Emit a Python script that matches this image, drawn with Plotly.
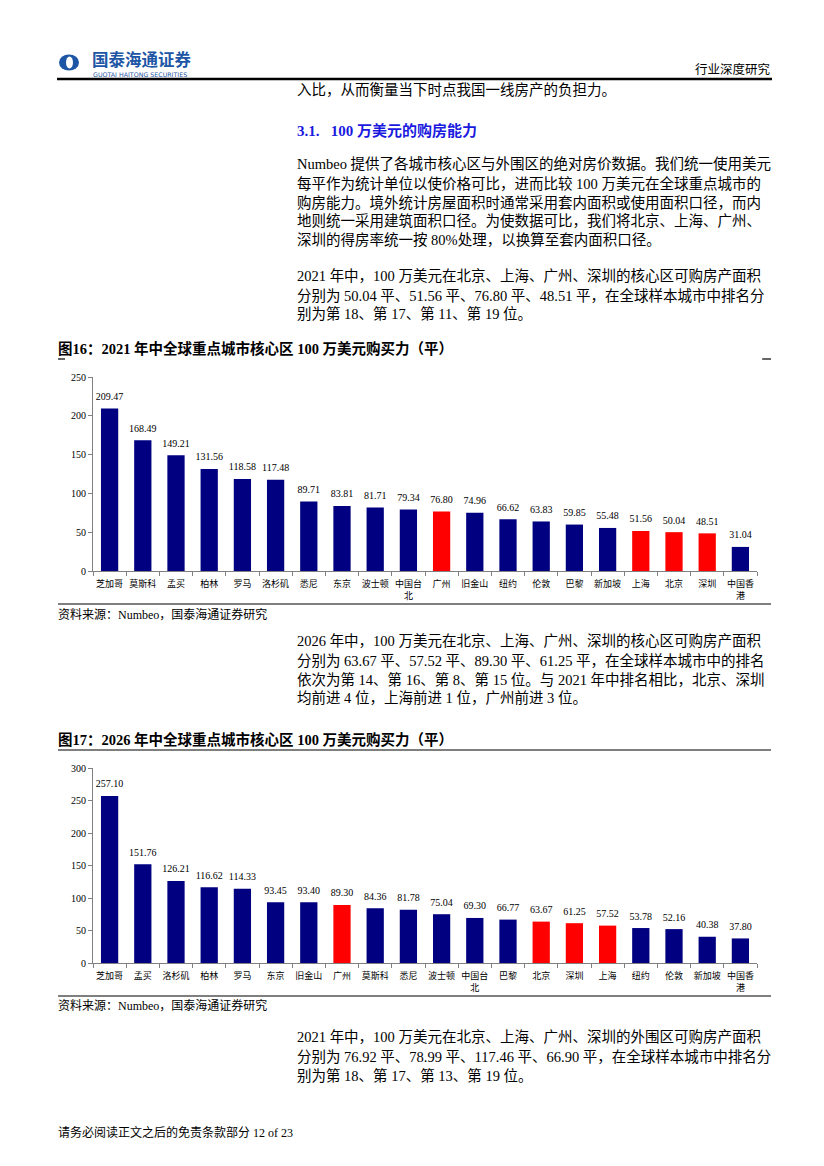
import plotly.graph_objects as go

W, H = 824, 1166

# ---------------- data ----------------
cities_2021 = ["芝加哥", "莫斯科", "孟买", "柏林", "罗马", "洛杉矶", "悉尼", "东京", "波士顿", "中国台北",
               "广州", "旧金山", "纽约", "伦敦", "巴黎", "新加坡", "上海", "北京", "深圳", "中国香港"]
values_2021 = [209.47, 168.49, 149.21, 131.56, 118.58, 117.48, 89.71, 83.81, 81.71, 79.34,
               76.80, 74.96, 66.62, 63.83, 59.85, 55.48, 51.56, 50.04, 48.51, 31.04]

cities_2026 = ["芝加哥", "孟买", "洛杉矶", "柏林", "罗马", "东京", "旧金山", "广州", "莫斯科", "悉尼",
               "波士顿", "中国台北", "巴黎", "北京", "深圳", "上海", "纽约", "伦敦", "新加坡", "中国香港"]
values_2026 = [257.10, 151.76, 126.21, 116.62, 114.33, 93.45, 93.40, 89.30, 84.36, 81.78,
               75.04, 69.30, 66.77, 63.67, 61.25, 57.52, 53.78, 52.16, 40.38, 37.80]

highlight_cities = ["广州", "上海", "北京", "深圳"]
yticks_2021 = [0, 50, 100, 150, 200, 250]
yticks_2026 = [0, 50, 100, 150, 200, 250, 300]

NAVY = "#000080"
RED = "#FF0000"
SERIF = "Liberation Serif, Noto Sans CJK SC"
CJK = "Noto Sans CJK SC"


def px(x):
    return x / W


def py(y):
    return 1 - y / H


def tick_label(c):
    if len(c) == 4:
        return c[:3] + "<br>" + c[3:]
    return c


fig = go.Figure()

for cities, values, xa, ya in [(cities_2021, values_2021, "x", "y"),
                               (cities_2026, values_2026, "x2", "y2")]:
    colors = [RED if c in highlight_cities else NAVY for c in cities]
    fig.add_trace(go.Bar(x=cities, y=values, marker=dict(color=colors, line=dict(width=0)),
                         xaxis=xa, yaxis=ya, showlegend=False, hoverinfo="skip"))
    fig.add_trace(go.Scatter(x=cities, y=values, mode="markers+text",
                             text=[f"{v:.2f}" for v in values], textposition="top center",
                             marker=dict(size=8, opacity=0),
                             textfont=dict(family=SERIF, size=10, color="#000000"),
                             xaxis=xa, yaxis=ya, showlegend=False, hoverinfo="skip", cliponaxis=False))

axis_common_x = dict(showline=True, linecolor="#808080", linewidth=1, ticks="outside",
                     tickson="boundaries", ticklen=4, tickcolor="#808080", showgrid=False,
                     tickangle=0, ticklabelstandoff=4, automargin=False,
                     range=[-0.5, 19.5],
                     tickfont=dict(family=CJK, size=9, color="#000000"), fixedrange=True)
axis_common_y = dict(showline=True, linecolor="#808080", linewidth=1, ticks="outside",
                     ticklen=4, tickcolor="#808080", showgrid=False, zeroline=False,
                     automargin=False,
                     tickfont=dict(family=SERIF, size=10, color="#000000"), fixedrange=True)

fig.update_layout(
    width=W, height=H,
    margin=dict(l=0, r=0, t=0, b=0),
    paper_bgcolor="white", plot_bgcolor="white",
    bargap=0.48,
    xaxis=dict(domain=[px(93), px(757)], anchor="y",
               tickmode="array", tickvals=cities_2021,
               ticktext=[tick_label(c) for c in cities_2021], **axis_common_x),
    yaxis=dict(domain=[py(571), py(377)], anchor="x", range=[0, 250],
               tickvals=yticks_2021, **axis_common_y),
    xaxis2=dict(domain=[px(93), px(757)], anchor="y2",
                tickmode="array", tickvals=cities_2026,
                ticktext=[tick_label(c) for c in cities_2026], **axis_common_x),
    yaxis2=dict(domain=[py(963), py(768)], anchor="x2", range=[0, 300],
                tickvals=yticks_2026, **axis_common_y),
)

annotations = []


def txt(x, y, s, size=14.5, color="#000000", family=SERIF, xanchor="left"):
    annotations.append(dict(x=px(x), y=py(y), xref="paper", yref="paper", text=s,
                            showarrow=False, xanchor=xanchor, yanchor="middle",
                            borderpad=0, borderwidth=0,
                            font=dict(family=family, size=size, color=color)))


# header
txt(92, 59.5, "<b>国泰海通证券</b>", size=16.5, color="#1d56a5", family=CJK)
txt(93, 75, "GUOTAI HAITONG SECURITIES", size=6.3, color="#1d56a5", family="DejaVu Sans")
txt(771, 69, "行业深度研究", size=12.5, family=CJK, xanchor="right")

# body text block 1
txt(297, 90, "入比，从而衡量当下时点我国一线房产的负担力。")
txt(297, 130, "<b>3.1.   100 万美元的购房能力</b>", size=15, color="#1a1adf")
body1 = ["Numbeo 提供了各城市核心区与外围区的绝对房价数据。我们统一使用美元",
         "每平作为统计单位以使价格可比，进而比较 100 万美元在全球重点城市的",
         "购房能力。境外统计房屋面积时通常采用套内面积或使用面积口径，而内",
         "地则统一采用建筑面积口径。为使数据可比，我们将北京、上海、广州、",
         "深圳的得房率统一按 80%处理，以换算至套内面积口径。"]
for i, s in enumerate(body1):
    txt(297, 164 + 19 * i, s)
body2 = ["2021 年中，100 万美元在北京、上海、广州、深圳的核心区可购房产面积",
         "分别为 50.04 平、51.56 平、76.80 平、48.51 平，在全球样本城市中排名分",
         "别为第 18、第 17、第 11、第 19 位。"]
for i, s in enumerate(body2):
    txt(297, 276 + 19 * i, s)

# chart 1 title & source
txt(58, 349, "<b>图16：2021 年中全球重点城市核心区 100 万美元购买力（平）</b>", size=14.5, family=SERIF)
txt(58, 614, "资料来源：Numbeo，国泰海通证券研究", size=12)

body3 = ["2026 年中，100 万美元在北京、上海、广州、深圳的核心区可购房产面积",
         "分别为 63.67 平、57.52 平、89.30 平、61.25 平，在全球样本城市中的排名",
         "依次为第 14、第 16、第 8、第 15 位。与 2021 年中排名相比，北京、深圳",
         "均前进 4 位，上海前进 1 位，广州前进 3 位。"]
for i, s in enumerate(body3):
    txt(297, 641 + 19 * i, s)

txt(58, 739, "<b>图17：2026 年中全球重点城市核心区 100 万美元购买力（平）</b>", size=14.5, family=SERIF)
txt(58, 1005, "资料来源：Numbeo，国泰海通证券研究", size=12)

body4 = ["2021 年中，100 万美元在北京、上海、广州、深圳的外围区可购房产面积",
         "分别为 76.92 平、78.99 平、117.46 平、66.90 平，在全球样本城市中排名分",
         "别为第 18、第 17、第 13、第 19 位。"]
for i, s in enumerate(body4):
    txt(297, 1037 + 19 * i, s)

txt(58, 1132, "请务必阅读正文之后的免责条款部分 12 of 23", size=12)

fig.update_layout(annotations=annotations)

shapes = []


def hline(x0, x1, y, w=1.5):
    shapes.append(dict(type="line", xref="paper", yref="paper", x0=px(x0), x1=px(x1),
                       y0=py(y), y1=py(y), line=dict(color="#000000", width=w)))


hline(57, 772, 79, 2.5)
hline(58, 65, 359, 1.2)
hline(762, 771, 359, 1.2)
hline(58, 771, 604, 1.2)
hline(58, 771, 750, 1.2)
hline(58, 771, 996, 1.2)

# logo
shapes.append(dict(type="circle", xref="paper", yref="paper", x0=px(59), x1=px(79),
                   y0=py(70.5), y1=py(54.5), fillcolor="#1d56a5", line=dict(width=0)))
shapes.append(dict(type="circle", xref="paper", yref="paper", x0=px(66), x1=px(73),
                   y0=py(68.5), y1=py(56.5), fillcolor="white", line=dict(width=0)))

fig.update_layout(shapes=shapes)

fig.write_html("out.html", config={"displayModeBar": False},
               post_script="document.body.style.margin='0';")
